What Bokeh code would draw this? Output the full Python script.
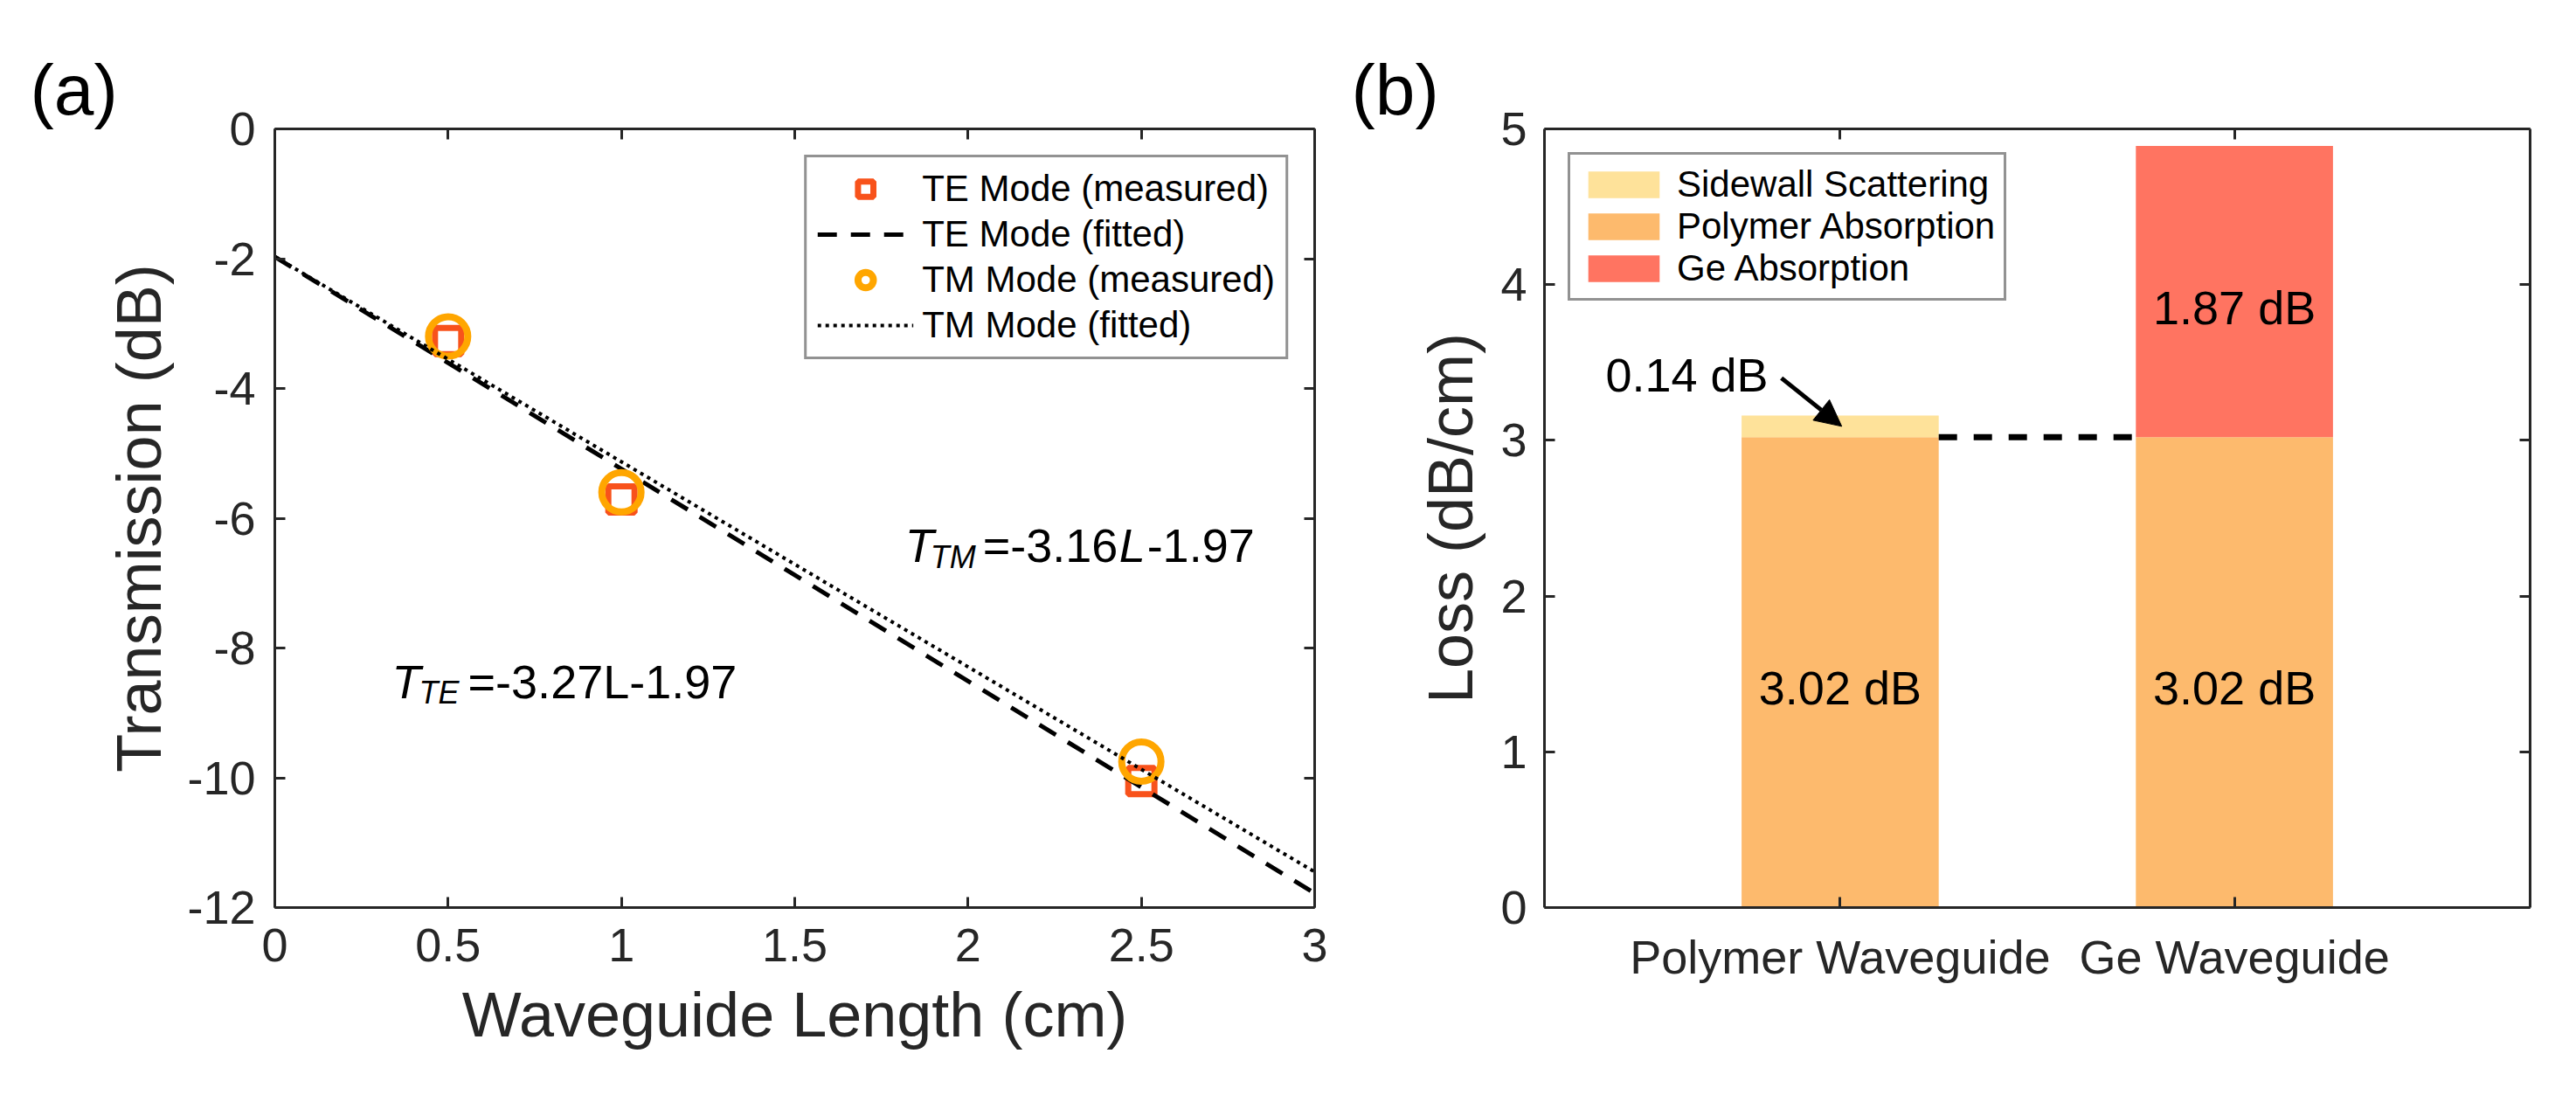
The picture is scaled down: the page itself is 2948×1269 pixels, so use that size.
from bokeh.plotting import figure
from bokeh.models import (Legend, LegendItem, LinearAxis, FixedTicker, Label,
                          Arrow, NormalHead, ColumnDataSource, Range1d)
from bokeh.core.properties import value
from bokeh.layouts import row
from bokeh.embed import file_html
from bokeh.resources import INLINE

# ---------------- data: panel (a) ----------------
length_cm = [0.5, 1.0, 2.5]
te_measured = [-3.27, -5.71, -10.05]
tm_measured = [-3.20, -5.60, -9.75]
fit_x = [0.0, 3.0]
te_fitted = [-1.97, -11.78]
tm_fitted = [-1.97, -11.45]
x_ticks_a = [0, 0.5, 1, 1.5, 2, 2.5, 3]
y_ticks_a = [0, -2, -4, -6, -8, -10, -12]

# ---------------- data: panel (b) ----------------
categories = ["Polymer Waveguide", "Ge Waveguide"]
polymer_absorption = [3.02, 3.02]
sidewall_scattering = [0.14, 0.0]
ge_absorption = [0.0, 1.87]
y_ticks_b = [0, 1, 2, 3, 4, 5]

FONT = "Liberation Sans"
AX = "#262626"
TE_COLOR = "#F8521B"
TM_COLOR = "#FFA600"
C_SIDE = "#FEE29A"
C_POLY = "#FDBA6D"
C_GE = "#FF7461"


def style_axis(ax, ticks, labels=True, overrides=None):
    ax.ticker = FixedTicker(ticks=ticks)
    ax.axis_line_color = AX
    ax.axis_line_width = 3
    ax.major_tick_line_color = AX
    ax.major_tick_line_width = 3
    ax.major_tick_in = 12
    ax.major_tick_out = 0
    ax.minor_tick_line_color = None
    ax.major_label_text_font = FONT
    ax.major_label_text_font_size = "54px"
    ax.major_label_text_color = AX
    ax.axis_label_text_font = FONT
    ax.axis_label_text_font_size = "72px"
    ax.axis_label_text_font_style = "normal"
    ax.axis_label_text_color = AX
    if labels:
        ax.major_label_overrides = overrides if overrides is not None else {t: f"{t:g}" for t in ticks}
    else:
        ax.major_label_overrides = {t: "" for t in ticks}
        ax.major_label_standoff = 0


def common(p, tag, offset):
    p.outline_line_color = None
    p.xgrid.grid_line_color = None
    p.ygrid.grid_line_color = None
    p.background_fill_color = "white"
    p.border_fill_color = "white"
    p.title.text = tag
    p.title.align = "left"
    p.title.offset = offset
    p.title.standoff = 0
    p.title.text_line_height = 1.45
    p.title.text_font = FONT
    p.title.text_font_size = "82px"
    p.title.text_font_style = "normal"
    p.title.text_color = "black"


# ================= panel (a) =================
pa = figure(width=1532, height=1250, x_range=Range1d(0, 3), y_range=Range1d(-12, 0),
            output_backend="svg", toolbar_location=None,
            min_border_left=314, min_border_right=28, min_border_top=147, min_border_bottom=212)
common(pa, "(a)", -280)
style_axis(pa.xaxis[0], x_ticks_a)
style_axis(pa.yaxis[0], y_ticks_a)
pa.xaxis[0].axis_label = "Waveguide Length (cm)"
pa.yaxis[0].axis_label = "Transmission (dB)"
pa.xaxis[0].major_label_standoff = 24
pa.xaxis[0].axis_label_standoff = 18
pa.yaxis[0].major_label_standoff = 22
pa.yaxis[0].axis_label_standoff = 12
top_a = LinearAxis()
right_a = LinearAxis()
style_axis(top_a, x_ticks_a, labels=False)
style_axis(right_a, y_ticks_a, labels=False)
pa.add_layout(top_a, "above")
pa.add_layout(right_a, "right")

r_te = pa.scatter(length_cm, te_measured, marker="square", size=30, fill_color=None,
                  line_color=TE_COLOR, line_width=7)
r_tef = pa.line(fit_x, te_fitted, line_color="black", line_width=5, line_dash="22 16")
r_tm = pa.scatter(length_cm, tm_measured, marker="circle", size=45, fill_color=None,
                  line_color=TM_COLOR, line_width=8)
r_tmf = pa.line(fit_x, tm_fitted, line_color="black", line_width=4, line_dash="4 5")

leg_a = Legend(items=[
    LegendItem(label="TE Mode (measured)", renderers=[r_te]),
    LegendItem(label="TE Mode (fitted)", renderers=[r_tef]),
    LegendItem(label="TM Mode (measured)", renderers=[r_tm]),
    LegendItem(label="TM Mode (fitted)", renderers=[r_tmf]),
], location="top_right")
leg_a.label_text_font = FONT
leg_a.label_text_font_size = "42px"
leg_a.label_text_color = "black"
leg_a.glyph_width = 110
leg_a.glyph_height = 44
leg_a.spacing = 4
leg_a.padding = 12
leg_a.label_standoff = 10
leg_a.margin = 30
leg_a.border_line_color = AX
leg_a.border_line_width = 3
leg_a.background_fill_alpha = 1.0
pa.add_layout(leg_a)


def add_label(p, x, y, text, size="54px", style="normal", xo=0, yo=0):
    p.add_layout(Label(x=x, y=y, x_offset=xo, y_offset=yo, text=text,
                       text_font=FONT, text_font_size=size, text_font_style=style,
                       text_color="black", text_baseline="alphabetic", text_align="left"))


# T_TM = -3.16L-1.97
add_label(pa, 1.818, -6.424, "T", style="italic")
add_label(pa, 1.818, -6.424, "TM", size="36px", style="italic", xo=29, yo=-13)
add_label(pa, 1.818, -6.424, "=-3.16", xo=89)
add_label(pa, 1.818, -6.424, "L", style="italic", xo=245)
add_label(pa, 1.818, -6.424, "-1.97", xo=277)

# T_TE = -3.27L-1.97
add_label(pa, 0.338, -8.525, "T", style="italic")
add_label(pa, 0.338, -8.525, "TE", size="36px", style="italic", xo=31, yo=-12)
add_label(pa, 0.338, -8.525, "=-3.27L-1.97", xo=87)

# ================= panel (b) =================
xs = [i + 1 for i in range(len(categories))]
bar_w = 0.5
pb = figure(width=1400, height=1250, x_range=Range1d(0.25, 2.75), y_range=Range1d(0, 5),
            output_backend="svg", toolbar_location=None,
            min_border_left=235, min_border_right=37, min_border_top=147, min_border_bottom=212)
common(pb, "(b)", -221)
style_axis(pb.xaxis[0], xs, overrides={x: c for x, c in zip(xs, categories)})
style_axis(pb.yaxis[0], y_ticks_b)
pb.yaxis[0].axis_label = "Loss (dB/cm)"
pb.xaxis[0].major_label_standoff = 26
pb.yaxis[0].major_label_standoff = 20
pb.yaxis[0].axis_label_standoff = 14
top_b = LinearAxis()
right_b = LinearAxis()
style_axis(top_b, xs, labels=False)
style_axis(right_b, y_ticks_b, labels=False)
pb.add_layout(top_b, "above")
pb.add_layout(right_b, "right")

src_b = ColumnDataSource(dict(x=xs, polymer=polymer_absorption,
                              sidewall=sidewall_scattering, ge=ge_absorption))
rs = pb.vbar_stack(["polymer", "sidewall", "ge"], x="x", width=bar_w, source=src_b,
                   fill_color=[C_POLY, C_SIDE, C_GE], line_color=None)
r_poly, r_side, r_ge = rs

# level line between bars
pb.segment(x0=[xs[0] + bar_w / 2], y0=[polymer_absorption[0]],
           x1=[xs[1] - bar_w / 2], y1=[polymer_absorption[1]],
           line_color="black", line_width=7, line_dash="21 19")

leg_b = Legend(items=[
    LegendItem(label="Sidewall Scattering", renderers=[r_side]),
    LegendItem(label="Polymer Absorption", renderers=[r_poly]),
    LegendItem(label="Ge Absorption", renderers=[r_ge]),
], location="top_left")
leg_b.label_text_font = FONT
leg_b.label_text_font_size = "42px"
leg_b.label_text_color = "black"
leg_b.glyph_width = 102
leg_b.glyph_height = 38
leg_b.spacing = 0
leg_b.padding = 10
leg_b.label_standoff = 10
leg_b.margin = 27
leg_b.border_line_color = AX
leg_b.border_line_width = 3
leg_b.background_fill_alpha = 1.0
pb.add_layout(leg_b)

# value labels inside bars
vx, vy, vt = [], [], []
for x, pa_v, ge_v in zip(xs, polymer_absorption, ge_absorption):
    vx.append(x); vy.append(pa_v / 2 - 0.1); vt.append(f"{pa_v:.2f} dB")
    if ge_v > 0:
        vx.append(x); vy.append(pa_v + ge_v / 2 - 0.1); vt.append(f"{ge_v:.2f} dB")
pb.text(x=vx, y=vy, text=vt, text_font=value(FONT), text_font_size="54px",
        text_color="black", text_align="center", text_baseline="alphabetic")

# sidewall annotation with arrow
add_label(pb, 0.405, 3.42, f"{sidewall_scattering[0]:.2f} dB")
pb.add_layout(Arrow(x_start=0.851, y_start=3.40, x_end=1.004, y_end=3.09,
                    line_color="black", line_width=5,
                    end=NormalHead(size=30, fill_color="black", line_color="black", line_width=1)))

layout = row(pa, pb)
open("out.html", "w").write(file_html(layout, INLINE))
